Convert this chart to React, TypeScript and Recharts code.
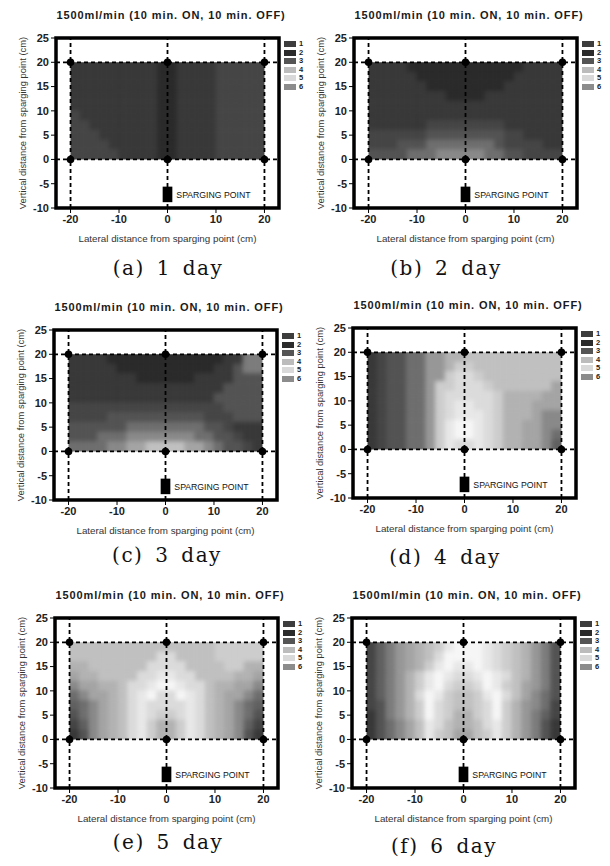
import { ComposedChart, XAxis, YAxis, Scatter, ReferenceArea, ReferenceLine } from 'recharts';

const FONT = '"Liberation Sans", Arial, sans-serif';

// cell edges of the measured area (cm)
const LATERAL_EDGES = [-20, -18, -16, -14, -12, -10, -8, -6, -4, -2, 0, 2, 4, 6, 8, 10, 12, 14, 16, 18, 20];
const VERTICAL_EDGES = [20, 18, 16, 14, 12, 10, 8, 6, 4, 2, 0];
const X_DOMAIN = [-23, 23];
const Y_DOMAIN = [-10, 25];
const X_TICKS = [-20, -10, 0, 10, 20];
const Y_TICKS = [-10, -5, 0, 5, 10, 15, 20, 25];
const GUIDE_X = [-20, 0, 20];
const GUIDE_Y = [0, 20];
const PROBES = [
  { x: -20, y: 20 },
  { x: 0, y: 20 },
  { x: 20, y: 20 },
  { x: -20, y: 0 },
  { x: 0, y: 0 },
  { x: 20, y: 0 },
];

// grey shade per level digit 0..f (dark -> light)
const SHADES = [
  '#2a2a2a', '#383838', '#454545', '#535353', '#606060', '#6e6e6e', '#7c7c7c', '#898989',
  '#979797', '#a4a4a4', '#b2b2b2', '#c0c0c0', '#cdcdcd', '#dbdbdb', '#e8e8e8', '#f6f6f6',
];

const LEGEND_LABELS = ['1', '2', '3', '4', '5', '6'];
const LEGEND_COLORS = ['#3d3d3d', '#2b2b2b', '#555555', '#bcbcbc', '#d9d9d9', '#8c8c8c'];

const TITLE = '1500ml/min (10 min. ON, 10 min. OFF)';
const X_LABEL = 'Lateral distance from sparging point (cm)';
const Y_LABEL = 'Vertical distance from sparging point (cm)';
const SPARGE_LABEL = 'SPARGING POINT';

// shade levels, rows from y=20 (top) down to y=0, columns x=-20..20
const DAY_1 = [
  '11111111100111122222',
  '11111111100111122222',
  '11111111100111122222',
  '11111111100111122222',
  '11111111100111122222',
  '21111111100111122222',
  '22111111100111122222',
  '22211111100111122222',
  '22221111100111122222',
  '22222111100111122222',
];
const DAY_2 = [
  '11110000000000001111',
  '11111000000000011111',
  '11111100000000111111',
  '11111111000011111111',
  '11111111111111111111',
  '11111111111111111111',
  '11111122222222111111',
  '22222233333333221111',
  '22233355555553222211',
  '33335557777755332222',
];
const DAY_3 = [
  '11110000000000001166',
  '11111000000000011366',
  '11111110000001111333',
  '11111111111111113333',
  '11111111111111133333',
  '22222222222222223333',
  '22223333333333222333',
  '33333355555555332111',
  '33355577777775533211',
  '55557799bbbb99753321',
];
const DAY_4 = [
  '12335588aabbbbbbbbbb',
  '12335588accbbbbbbbbb',
  '12335588cddcbbbbbbbb',
  '1233558ccdddcbbbbbb9',
  '1233558cdddddcaaaa99',
  '1233558cdeeddcaaa999',
  '1233558cdeeedcaaa977',
  '1233558ceffedcaa9977',
  '1233558ceffedcaa9975',
  '1233558ceddedcaa9974',
];
const DAY_5 = [
  'bbbbbbbbbbbbbbbccccc',
  'bbbbbbbbbddbbbbccccc',
  'aabbbbbbddddbbbbccaa',
  '9aabbbbddeeddbbbbaa9',
  '799aabddeffeddbaa997',
  '5799abdefddfedba9975',
  '4579abdeddddedba9754',
  '3579abdedccdedba9753',
  '2479abdecaacedba9742',
  '1379abdecaacedba9731',
];
const DAY_6 = [
  '24689abcefffedcba863',
  '24689abdffffedcba863',
  '24689acefeefedcba863',
  '2468acefeddefedba863',
  '2468acefdccdfecb9863',
  '2468adfecbbcefdb9753',
  '2368acfdcbbcdfca8752',
  '1368acfdcaacdfca8642',
  '13579bedbaabdeca8631',
  '13579becb99bceca8631',
];

const PANELS = [
  { id: 'a', rows: DAY_1, dx: 0, dy: 0, caption: '(a) 1 day', cx: 168, cy: 268 },
  { id: 'b', rows: DAY_2, dx: 298, dy: 0, caption: '(b) 2 day', cx: 446, cy: 268 },
  { id: 'c', rows: DAY_3, dx: -2, dy: 292, caption: '(c) 3 day', cx: 167, cy: 555 },
  { id: 'd', rows: DAY_4, dx: 297, dy: 290, caption: '(d) 4 day', cx: 445, cy: 557 },
  { id: 'e', rows: DAY_5, dx: -1, dy: 580, caption: '(e) 5 day', cx: 168, cy: 842 },
  { id: 'f', rows: DAY_6, dx: 296, dy: 580, caption: '(f) 6 day', cx: 444, cy: 846 },
];

const W = 300;
const H = 250;
const MARGIN = { top: 38, right: 21, bottom: 8, left: 20 };
const Y_AXIS_W = 36;
const X_AXIS_H = 34;

// pixel box of the measured area, used only to clip the softened fill layer
const PLOT_W = W - MARGIN.left - Y_AXIS_W - MARGIN.right;
const PLOT_H = H - MARGIN.top - MARGIN.bottom - X_AXIS_H;
const px = (v: number) => MARGIN.left + Y_AXIS_W + ((v - X_DOMAIN[0]) / (X_DOMAIN[1] - X_DOMAIN[0])) * PLOT_W;
const py = (v: number) => MARGIN.top + ((Y_DOMAIN[1] - v) / (Y_DOMAIN[1] - Y_DOMAIN[0])) * PLOT_H;
const CLIP = `inset(${py(20)}px ${W - px(20)}px ${H - py(0)}px ${px(-20)}px)`;

function YTitle(props: any) {
  const vb = props.viewBox;
  const x = vb.x + 2;
  const y = vb.y + vb.height / 2;
  return (
    <text x={x} y={y} transform={`rotate(-90 ${x} ${y})`} textAnchor="middle" dominantBaseline="central"
      fontSize={9.4} fill="#333" fontFamily={FONT}>
      {Y_LABEL}
    </text>
  );
}

function XTitle(props: any) {
  const vb = props.viewBox;
  return (
    <text x={vb.x + vb.width / 2} y={vb.y + 30} textAnchor="middle" dominantBaseline="central"
      fontSize={9.8} fill="#333" fontFamily={FONT}>
      {X_LABEL}
    </text>
  );
}

function SpargeLabel(props: any) {
  const vb = props.viewBox;
  return (
    <text x={vb.x + vb.width + 4} y={vb.y + vb.height / 2 + 0.5} dominantBaseline="central"
      fontSize={8.7} fill="#111" fontFamily={FONT}>
      {SPARGE_LABEL}
    </text>
  );
}

function Probe(props: any) {
  return <circle cx={props.cx} cy={props.cy} r={3.8} fill="#000" />;
}

function buildCells(rows: string[]) {
  const cells: any[] = [];
  const lastR = rows.length - 1;
  rows.forEach((row, r) => {
    const lastC = row.length - 1;
    row.split('').forEach((lvl, c) => {
      const fill = SHADES[parseInt(lvl, 16)];
      // outer cells reach a little past the border so the blur does not fade at the edge (clipped anyway)
      cells.push(
        <ReferenceArea
          key={`cell-${r}-${c}`}
          x1={LATERAL_EDGES[c] - (c === 0 ? 2 : 0)}
          x2={LATERAL_EDGES[c + 1] + (c === lastC ? 2 : 0)}
          y1={VERTICAL_EDGES[r + 1] - (r === lastR ? 2 : 0)}
          y2={VERTICAL_EDGES[r] + (r === 0 ? 2 : 0)}
          fill={fill}
          fillOpacity={1}
          stroke={fill}
          strokeWidth={0.8}
          ifOverflow="visible"
        />
      );
    });
  });
  return cells;
}

function ContourPanel({ rows, left, top }: { rows: string[]; left: number; top: number }) {
  const tickStyle = { fontSize: 11, fontWeight: 700, fill: '#222', fontFamily: FONT };
  return (
    <div style={{ position: 'absolute', left, top, width: 320, height: 250 }}>
      <div
        style={{
          position: 'absolute', left: 0, top: 8, width: 342, textAlign: 'center', lineHeight: '14px',
          fontFamily: FONT, fontSize: 11, fontWeight: 700, letterSpacing: 0.9, color: '#1a1a1a', whiteSpace: 'nowrap',
        }}
      >
        {TITLE}
      </div>

      {/* softened fill layer */}
      <div style={{ position: 'absolute', left: 0, top: 0, width: W, height: H, clipPath: CLIP }}>
        <div style={{ filter: 'blur(2.2px)' }}>
          <ComposedChart width={W} height={H} margin={MARGIN}>
            <XAxis type="number" dataKey="x" domain={X_DOMAIN} allowDataOverflow height={X_AXIS_H}
              tick={false} tickLine={false} axisLine={false} />
            <YAxis type="number" dataKey="y" domain={Y_DOMAIN} allowDataOverflow width={Y_AXIS_W}
              tick={false} tickLine={false} axisLine={false} />
            {buildCells(rows)}
          </ComposedChart>
        </div>
      </div>

      <ComposedChart width={W} height={H} margin={MARGIN} style={{ position: 'absolute', left: 0, top: 0 }}>
        <XAxis type="number" dataKey="x" domain={X_DOMAIN} ticks={X_TICKS} allowDataOverflow axisLine={false}
          tickLine={{ stroke: '#000' }} tickSize={5} height={X_AXIS_H} tick={tickStyle} label={XTitle} />
        <YAxis type="number" dataKey="y" domain={Y_DOMAIN} ticks={Y_TICKS} allowDataOverflow axisLine={false}
          tickLine={{ stroke: '#000' }} tickSize={5} width={Y_AXIS_W} tick={tickStyle} label={YTitle} />
        <ReferenceArea x1={-1} x2={1} y1={-8.8} y2={-5.6} fill="#000" fillOpacity={1} ifOverflow="visible"
          label={SpargeLabel} />
        {GUIDE_X.map((gx) => (
          <ReferenceLine key={`gx${gx}`} x={gx} stroke="#000" strokeWidth={1.8} strokeDasharray="4 3" />
        ))}
        {GUIDE_Y.map((gy) => (
          <ReferenceLine key={`gy${gy}`} y={gy} stroke="#000" strokeWidth={1.8} strokeDasharray="4 3" />
        ))}
        <ReferenceArea x1={X_DOMAIN[0]} x2={X_DOMAIN[1]} y1={Y_DOMAIN[0]} y2={Y_DOMAIN[1]} fill="none"
          fillOpacity={0} stroke="#000" strokeWidth={3.5} ifOverflow="visible" />
        <Scatter data={PROBES} dataKey="y" fill="#000" shape={Probe} isAnimationActive={false} />
      </ComposedChart>

      <div style={{ position: 'absolute', left: 284, top: 40 }}>
        {LEGEND_LABELS.map((lab, i) => (
          <div key={lab} style={{ display: 'flex', alignItems: 'center', height: 8.5 }}>
            <span style={{ display: 'inline-block', width: 12, height: 6, background: LEGEND_COLORS[i] }} />
            <span style={{ fontFamily: FONT, fontSize: 7.5, fontWeight: 700, color: '#222', marginLeft: 3, lineHeight: '8px' }}>
              {lab}
            </span>
          </div>
        ))}
      </div>
    </div>
  );
}

export default function App() {
  const leftCol = PANELS.filter((p) => p.dx < 150);
  const rightCol = PANELS.filter((p) => p.dx >= 150);
  return (
    <div style={{ position: 'absolute', left: 0, top: 0, width: 610, height: 866, background: '#fff', overflow: 'hidden' }}>
      <div style={{ position: 'absolute', left: 0, top: 0, width: 305, height: 866, overflow: 'hidden' }}>
        {leftCol.map((p) => (
          <ContourPanel key={p.id} rows={p.rows} left={p.dx} top={p.dy} />
        ))}
      </div>
      <div style={{ position: 'absolute', left: 305, top: 0, width: 305, height: 866, overflow: 'hidden' }}>
        {rightCol.map((p) => (
          <ContourPanel key={p.id} rows={p.rows} left={p.dx - 305} top={p.dy} />
        ))}
      </div>
      {PANELS.map((p) => (
        <div
          key={`cap-${p.id}`}
          style={{
            position: 'absolute', left: p.cx - 100, top: p.cy - 14, width: 200, textAlign: 'center',
            lineHeight: '28px', fontFamily: '"DejaVu Serif", "Liberation Serif", serif', fontSize: 20,
            letterSpacing: 1.5, wordSpacing: 4, color: '#111', whiteSpace: 'pre',
          }}
        >
          {p.caption}
        </div>
      ))}
    </div>
  );
}
